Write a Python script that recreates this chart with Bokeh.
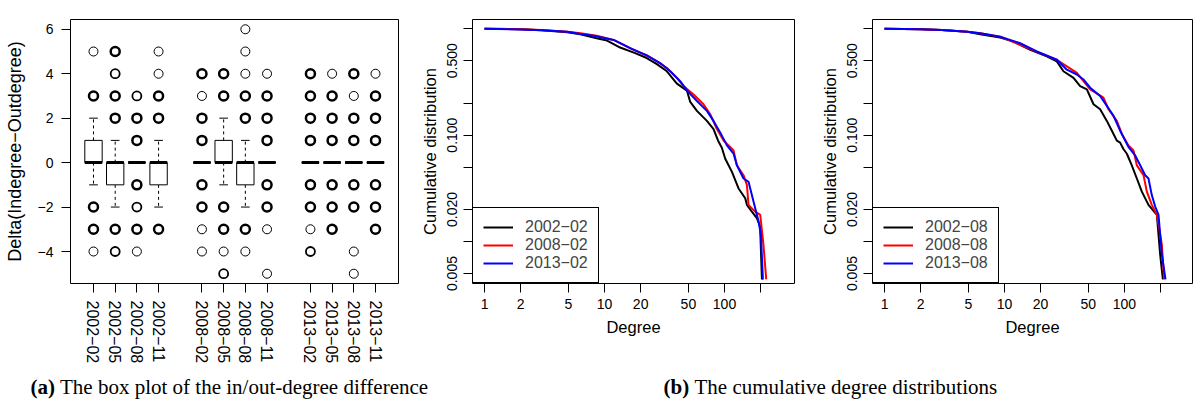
import numpy as np
from bokeh.plotting import figure
from bokeh.models import FixedTicker, Label, Legend, LegendItem, ColumnDataSource, Range1d
from bokeh.layouts import row, column
from bokeh.embed import file_html
from bokeh.resources import INLINE

FONT = "Liberation Sans"
SERIF = "Liberation Serif"
M = "\u2212"

# ---------------- (a) box plot data ----------------
groups = [["2002-02", "2002-05", "2002-08", "2002-11"],
          ["2008-02", "2008-05", "2008-08", "2008-11"],
          ["2013-02", "2013-05", "2013-08", "2013-11"]]
q1 = [0, -1, 0, -1, 0, 0, -1, 0, 0, 0, 0, 0]
med = [0, 0, 0, 0, 0, 0, 0, 0, 0, 0, 0, 0]
q3 = [1, 0, 0, 0, 0, 1, 0, 0, 0, 0, 0, 0]
whisk_lo = [-1, -2, 0, -2, 0, -1, -2, 0, 0, 0, 0, 0]
whisk_hi = [2, 1, 0, 1, 0, 2, 1, 0, 0, 0, 0, 0]
out_vals = [[5, 3, -2, -3, -4],
            [5, 4, 3, 2, -3, -4],
            [3, 2, 1, -1, -2, -3, -4],
            [5, 4, 3, 2, -3],
            [4, 3, 2, 1, -1, -2, -3, -4],
            [4, 3, -2, -3, -4, -5],
            [6, 5, 4, 3, 2, -3, -4],
            [4, 3, 2, 1, -1, -2, -3, -5],
            [4, 3, 2, 1, -1, -2, -3, -4],
            [4, 3, 2, 1, -1, -2, -3],
            [4, 3, 2, 1, -1, -2, -4, -5],
            [4, 3, 2, 1, -1, -2, -3]]
out_counts = [[1, 3, 3, 3, 1],
              [3, 2, 3, 3, 3, 2],
              [2, 3, 3, 3, 2, 3, 1],
              [1, 1, 3, 3, 3],
              [3, 1, 3, 3, 3, 3, 1, 1],
              [3, 3, 3, 3, 1, 2],
              [1, 1, 1, 3, 3, 3, 1],
              [1, 3, 3, 3, 3, 3, 1, 1],
              [3, 3, 3, 3, 3, 3, 1, 2],
              [1, 3, 3, 3, 3, 3, 3],
              [3, 1, 3, 3, 3, 3, 1, 1],
              [1, 3, 3, 3, 3, 3, 3]]
y_ticks_a = [-4, -2, 0, 2, 4, 6]

# ---------------- (b) cumulative degree distributions ----------------
deg_2002_02 = [1, 2, 3, 4.9, 6.3, 8.6, 10.5, 13.5, 18, 22.5, 27.3, 33.1, 40.1, 48.6, 51.8, 58.9,
               71.3, 81, 89.1, 95, 101.4, 115.3, 130.9, 148.8, 153.7, 169, 186, 198, 205]
cdf_2002_02 = [1.0, 0.99, 0.965, 0.925, 0.885, 0.813, 0.773, 0.665, 0.59, 0.53, 0.465, 0.398, 0.305,
               0.262, 0.205, 0.169, 0.136, 0.114, 0.087, 0.076, 0.060, 0.0451, 0.0315, 0.0255,
               0.0221, 0.0191, 0.0166, 0.0139, 0.0044]
deg_2008_02 = [1, 2, 3, 4.9, 6.3, 8.6, 11.9, 17.4, 22.5, 27.3, 33.1, 40.1, 45.5, 55.2, 66.8, 76,
               86.4, 98.2, 118.9, 126.8, 144, 153.7, 158.5, 180, 198.4, 211, 222.6]
cdf_2008_02 = [1.0, 0.99, 0.97, 0.935, 0.905, 0.86, 0.784, 0.633, 0.56, 0.493, 0.427, 0.345, 0.289,
               0.241, 0.195, 0.157, 0.114, 0.0888, 0.0717, 0.052, 0.042, 0.0339, 0.0221, 0.0191,
               0.0178, 0.0094, 0.0044]
deg_2013_02 = [1, 2, 3, 4.9, 6.3, 8.1, 11.9, 16.4, 22.5, 29.1, 35.3, 42.7, 48.6, 58.9, 71.3, 81,
               92, 104.7, 118.9, 126.8, 144, 158.5, 169, 180, 192, 201, 209]
cdf_2013_02 = [1.0, 0.985, 0.965, 0.935, 0.891, 0.86, 0.784, 0.656, 0.561, 0.475, 0.398, 0.321,
               0.263, 0.209, 0.169, 0.136, 0.106, 0.080, 0.0668, 0.052, 0.0391, 0.0364, 0.0273,
               0.0206, 0.0155, 0.0116, 0.0044]

deg_2002_08 = [1, 2, 3, 4.9, 6.27, 9.2, 11.9, 16.4, 22.5, 27.3, 31, 37.6, 42.7, 48.6, 55.2, 62.7,
               71.3, 78.5, 86.4, 92, 98, 104.7, 115.1, 126.8, 139.6, 158.5, 186.2, 192.2, 198.2, 209]
cdf_2002_08 = [1.0, 0.99, 0.97, 0.937, 0.885, 0.824, 0.756, 0.633, 0.549, 0.493, 0.398, 0.345,
               0.289, 0.269, 0.195, 0.175, 0.136, 0.110, 0.0888, 0.085, 0.074, 0.0668, 0.052,
               0.0391, 0.0294, 0.0221, 0.0178, 0.0116, 0.0076, 0.0044]
deg_2008_08 = [1, 2, 3, 4.9, 6.27, 9.2, 13.5, 19.8, 27.3, 33.1, 40.1, 45.5, 51.8, 66.8, 73.6, 86.4,
               95.1, 108, 118.9, 126.8, 144.2, 153.6, 169, 186.2, 204.8, 214.2]
cdf_2008_08 = [1.0, 0.99, 0.97, 0.937, 0.905, 0.842, 0.705, 0.589, 0.511, 0.443, 0.384, 0.321,
               0.269, 0.225, 0.175, 0.136, 0.1025, 0.0798, 0.0717, 0.052, 0.042, 0.0294, 0.0221,
               0.0178, 0.0094, 0.0044]
deg_2013_08 = [1, 2, 3, 4.9, 6.27, 9.2, 13.5, 18.6, 27.3, 33.1, 40.1, 45.5, 51.8, 62.7, 71.3, 81,
               92, 104.7, 108.1, 122.8, 135.2, 148.8, 158.5, 169, 180.3, 192.2, 204.8, 219.7]
cdf_2013_08 = [1.0, 0.99, 0.97, 0.937, 0.905, 0.842, 0.73, 0.611, 0.511, 0.412, 0.371, 0.333, 0.279,
               0.233, 0.188, 0.152, 0.110, 0.0828, 0.077, 0.0644, 0.052, 0.042, 0.0391, 0.0273,
               0.0213, 0.0178, 0.0076, 0.0044]

x_ticks_b = [1, 2, 5, 10, 20, 50, 100, 200]
x_labels_b = ["1", "2", "5", "10", "20", "50", "100", ""]
y_ticks_b = [0.005, 0.01, 0.02, 0.05, 0.1, 0.2, 0.5, 1]
y_labels_b = ["0.005", "", "0.020", "", "0.100", "", "0.500", ""]
series_colors = ["#000000", "#ff0000", "#0000ff"]

caption_a = ("(a)", "The box plot of the in/out-degree difference")
caption_b = ("(b)", "The cumulative degree distributions")

TOP_H = 368


def style_axes(p):
    for ax in p.axis:
        ax.axis_line_color = None
        ax.major_tick_out = 9
        ax.major_tick_in = 0
        ax.minor_tick_out = 0
        ax.minor_tick_in = 0
        ax.major_tick_line_color = "black"
        ax.major_label_text_font = FONT
        ax.major_label_text_color = "black"
        ax.axis_label_text_font = FONT
        ax.axis_label_text_font_style = "normal"
        ax.axis_label_text_color = "black"
    p.grid.visible = False
    p.outline_line_color = "black"
    p.outline_line_width = 1
    p.outline_line_alpha = 1
    p.background_fill_color = "white"
    p.border_fill_color = "white"


# ---------------- panel (a) ----------------
cats = [c.replace("-", M) for g in groups for c in g]
pos = [gi * 5 + i + 1 for gi, g in enumerate(groups) for i in range(len(g))]

p1 = figure(width=412, height=TOP_H, output_backend="svg", toolbar_location=None,
            x_range=Range1d(-0.06, 15.06), y_range=Range1d(-5.44, 6.44),
            min_border_left=70, min_border_right=14, min_border_top=10,
            min_border_bottom=TOP_H - 283)
style_axes(p1)
bw = 0.8
src = ColumnDataSource(dict(x=pos, q1=q1, q3=q3, med=med, lo=whisk_lo, hi=whisk_hi,
                            x0=[x - bw / 2 for x in pos], x1=[x + bw / 2 for x in pos],
                            s0=[x - bw / 4 for x in pos], s1=[x + bw / 4 for x in pos]))
p1.segment(x0="x", y0="q3", x1="x", y1="hi", source=src, line_color="black",
           line_width=1, line_dash="3 3")
p1.segment(x0="x", y0="q1", x1="x", y1="lo", source=src, line_color="black",
           line_width=1, line_dash="3 3")
p1.segment(x0="s0", y0="hi", x1="s1", y1="hi", source=src, line_color="black", line_width=1)
p1.segment(x0="s0", y0="lo", x1="s1", y1="lo", source=src, line_color="black", line_width=1)
p1.quad(left="x0", right="x1", bottom="q1", top="q3", source=src, fill_color="white",
        line_color="black", line_width=1)
p1.segment(x0="x0", y0="med", x1="x1", y1="med", source=src, line_color="black", line_width=3)

ox, oy, ow = [], [], []
for x, vals, cnts in zip(pos, out_vals, out_counts):
    for v, c in zip(vals, cnts):
        ox.append(x)
        oy.append(v)
        ow.append({1: 1.0, 2: 1.8}.get(c, 2.5))
p1.scatter(x="x", y="y", source=ColumnDataSource(dict(x=ox, y=oy, w=ow)), marker="circle",
           size=9, fill_color=None, line_color="black", line_width="w")

p1.xaxis.ticker = FixedTicker(ticks=pos, minor_ticks=[])
p1.xaxis.major_label_overrides = {x: c for x, c in zip(pos, cats)}
p1.xaxis.major_label_orientation = "vertical"
p1.xaxis.major_label_text_font_size = "16px"
p1.xaxis.major_label_standoff = 8
p1.yaxis.ticker = FixedTicker(ticks=y_ticks_a, minor_ticks=[])
p1.yaxis.major_label_overrides = {t: str(t).replace("-", M) for t in y_ticks_a}
p1.yaxis.major_label_text_font_size = "14px"
p1.yaxis.major_label_standoff = 8
p1.yaxis.axis_label = "Delta(Indegree" + M + "Outdegree)"
p1.yaxis.axis_label_text_font_size = "18px"
p1.yaxis.axis_label_standoff = 10


# ---------------- panels (b) ----------------
def cdf_panel(width, left, right, xmax, series):
    p = figure(width=width, height=TOP_H, output_backend="svg", toolbar_location=None,
               x_axis_type="log", y_axis_type="log",
               x_range=Range1d(0.794, xmax), y_range=Range1d(0.00403, 1.22),
               min_border_left=left, min_border_right=right, min_border_top=19,
               min_border_bottom=TOP_H - 286)
    style_axes(p)
    items = []
    for (lab, d, c), col in zip(series, series_colors):
        r = p.line(d, c, line_color=col, line_width=2)
        items.append(LegendItem(label=lab.replace("-", M), renderers=[r]))
    p.xaxis.ticker = FixedTicker(ticks=x_ticks_b, minor_ticks=[])
    p.xaxis.major_label_overrides = {t: l for t, l in zip(x_ticks_b, x_labels_b)}
    p.xaxis.major_label_text_font_size = "14px"
    p.xaxis.major_label_standoff = 6
    p.xaxis.axis_label = "Degree"
    p.xaxis.axis_label_text_font_size = "16.5px"
    p.xaxis.axis_label_standoff = 6
    p.yaxis.ticker = FixedTicker(ticks=y_ticks_b, minor_ticks=[])
    p.yaxis.major_label_overrides = {t: l for t, l in zip(y_ticks_b, y_labels_b)}
    p.yaxis.major_label_orientation = "parallel"
    p.yaxis.major_label_text_font_size = "14px"
    p.yaxis.major_label_standoff = 6
    p.yaxis.axis_label = "Cumulative distribution"
    p.yaxis.axis_label_text_font_size = "16.5px"
    p.yaxis.axis_label_standoff = 6
    leg = Legend(items=items, location="bottom_left", margin=0, padding=10, spacing=0,
                 glyph_width=30, glyph_height=18, label_height=18, label_standoff=12,
                 label_text_font=FONT, label_text_font_size="16px",
                 border_line_color="black", border_line_width=1, border_line_alpha=1,
                 background_fill_color="white", background_fill_alpha=1)
    p.add_layout(leg)
    return p


p2 = cdf_panel(388, 60, 6, 383, [("2002-02", deg_2002_02, cdf_2002_02),
                                 ("2008-02", deg_2008_02, cdf_2008_02),
                                 ("2013-02", deg_2013_02, cdf_2013_02)])
p3 = cdf_panel(393, 72, 1, 369, [("2002-08", deg_2002_08, cdf_2002_08),
                                 ("2008-08", deg_2008_08, cdf_2008_08),
                                 ("2013-08", deg_2013_08, cdf_2013_08)])

# ---------------- captions ----------------
cap_h = 401 - TOP_H
pc = figure(width=1193, height=cap_h, output_backend="svg", toolbar_location=None,
            x_range=Range1d(0, 1193), y_range=Range1d(0, cap_h),
            x_axis_location=None, y_axis_location=None, min_border=0)
pc.grid.visible = False
pc.outline_line_color = None
pc.background_fill_color = "white"
pc.border_fill_color = "white"
for (bold, rest), xb, xr in [(caption_a, 30, 59.5), (caption_b, 663, 694)]:
    pc.add_layout(Label(x=xb, y=15, text=bold, text_font=SERIF, text_font_size="21px",
                        text_font_style="bold", text_baseline="alphabetic", text_color="black"))
    pc.add_layout(Label(x=xr, y=15, text=rest, text_font=SERIF, text_font_size="21px",
                        text_baseline="alphabetic", text_color="black"))

layout = column(row(p1, p2, p3), pc)
open("out.html", "w").write(file_html(layout, INLINE))
